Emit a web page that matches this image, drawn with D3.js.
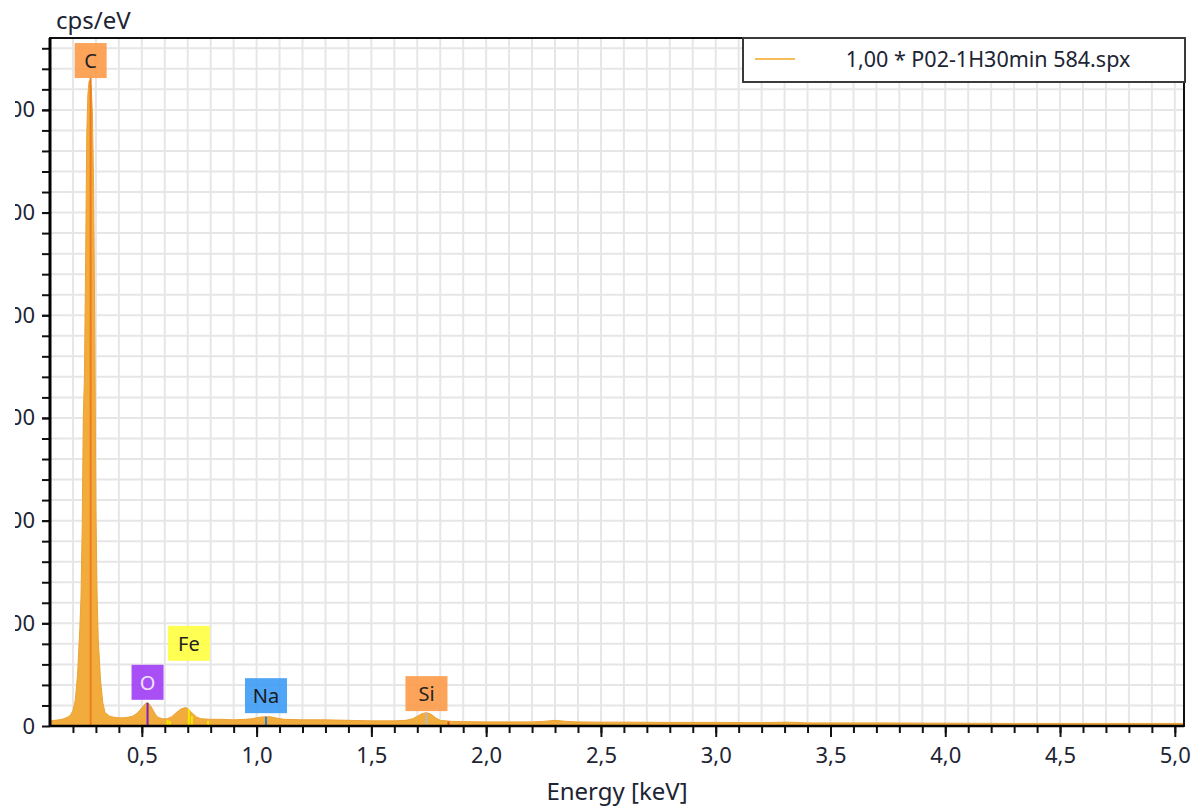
<!DOCTYPE html>
<html>
<head>
<meta charset="utf-8">
<script src="https://cdn.jsdelivr.net/npm/d3@7"></script>
<style>
  body { margin: 0; background: #fff; }
  text { font-family: "Noto Sans", "Open Sans", sans-serif; fill: #1d2433; }
</style>
</head>
<body>
<div id="spectrum"></div>
<script>
// spectrum (keV, cps/eV)
const energy = [0.10, 0.12, 0.14, 0.16, 0.18, 0.19, 0.20, 0.21, 0.22, 0.23, 0.235, 0.24, 0.245, 0.25, 0.255,
  0.26, 0.265, 0.27, 0.275, 0.28, 0.285, 0.29, 0.295, 0.30, 0.305, 0.31, 0.32, 0.33, 0.34, 0.36, 0.38,
  0.40, 0.42, 0.44, 0.46, 0.48, 0.50, 0.51, 0.52, 0.525, 0.53, 0.54, 0.55, 0.56, 0.57, 0.59, 0.61,
  0.63, 0.65, 0.67, 0.69, 0.70, 0.72, 0.74, 0.76, 0.80, 0.85, 0.90, 0.95, 0.98, 1.00, 1.03, 1.06,
  1.09, 1.12, 1.20, 1.30, 1.40, 1.50, 1.60, 1.65, 1.68, 1.70, 1.72, 1.74, 1.76, 1.78, 1.80, 1.85,
  1.90, 2.00, 2.10, 2.20, 2.25, 2.30, 2.35, 2.40, 2.50, 2.60, 2.80, 3.00, 3.20, 3.30, 3.35, 3.40,
  3.50, 3.70, 4.00, 4.30, 4.60, 4.80, 5.04];
const cps = [10, 11, 12, 14, 18, 22, 30, 50, 100, 190, 250, 380, 600, 680, 900,
  1150, 1230, 1255, 1258, 1240, 1190, 1050, 780, 420, 260, 170, 90, 45, 26, 19, 17,
  16, 16, 17, 19, 25, 35, 41, 45, 46, 44, 38, 30, 22, 17, 14, 14,
  18, 26, 33, 36, 34, 25, 17, 14, 13, 13, 12, 13, 14, 16, 18, 18,
  15, 13, 12, 12, 11, 10, 10, 11, 14, 19, 24, 26, 23, 16, 11, 9,
  8.5, 8, 8, 8, 9, 11, 9, 8, 7.5, 7.5, 7, 7, 6.5, 7.5, 7, 6,
  6, 6, 5.5, 5, 5, 5, 5];

// element labels
const elements = ["C", "O", "Fe", "Na", "Si"];
const elementEnergy = [0.277, 0.525, 0.705, 1.041, 1.740];
const labelBottom = [1262, 51, 127, 25, 29];
const labelColor = ["#fb9a48", "#a03cf5", "#ffff40", "#3d9bf5", "#fb9a48"];
const labelText = ["#222", "#f0e4ff", "#222", "#1a1a1a", "#222"];

// element marker lines
const markerEnergy = [0.277, 0.525, 0.612, 0.622, 0.705, 0.718, 0.788, 1.041, 1.740, 1.836];
const markerTop = [1262, 45, 12, 10, 33, 20, 10, 18, 26, 9];
const markerColor = ["#f07a20", "#7a20c0", "#f5e800", "#f5e800", "#f5e800", "#f5e800", "#f5e800", "#2a7fd0", "#b8b8b8", "#e05020"];

const xMajor = [0.5, 1.0, 1.5, 2.0, 2.5, 3.0, 3.5, 4.0, 4.5, 5.0];
const yMajor = [0, 200, 400, 600, 800, 1000, 1200];
const legendLabel = "1,00 * P02-1H30min 584.spx";

(function chart() {
  let width = 1192,
    height = 807,
    margin = ({ top: 38, right: 8, bottom: 81, left: 50 });

  const svg = d3.select("#spectrum")
    .append("svg")
    .attr("width", width)
    .attr("height", height);

  let x = d3.scaleLinear([0.1, 5.04], [margin.left, width - margin.right]);
  let y = d3.scaleLinear([0, 1340], [height - margin.bottom, margin.top]);

  const xMinor = d3.range(2, 51).map(d => d / 10);
  const yMinor = d3.range(40, 1340, 40);
  const fmt = d => d3.format(".1f")(d).replace(".", ",");

  // grid
  svg.append("g")
    .attr("stroke", "#e6e6e6")
    .attr("stroke-width", 2)
    .call(g => g.selectAll(".v").data(xMinor).join("line")
      .attr("x1", d => x(d)).attr("x2", d => x(d))
      .attr("y1", margin.top).attr("y2", height - margin.bottom))
    .call(g => g.selectAll(".h").data(yMinor).join("line")
      .attr("x1", margin.left).attr("x2", width - margin.right)
      .attr("y1", d => y(d)).attr("y2", d => y(d)));

  // spectrum
  const pts = energy.map((e, i) => [e, cps[i]]);
  svg.append("path")
    .datum(pts)
    .attr("fill", "#f2ac3c")
    .attr("stroke", "#eca235")
    .attr("stroke-width", 1)
    .attr("d", d3.area().x(d => x(d[0])).y0(y(0)).y1(d => y(d[1])));

  // marker lines
  svg.append("g")
    .selectAll("line")
    .data(markerEnergy)
    .join("line")
    .attr("x1", d => x(d)).attr("x2", d => x(d))
    .attr("y1", y(0))
    .attr("y2", (d, i) => y(markerTop[i]))
    .attr("stroke", (d, i) => markerColor[i])
    .attr("stroke-width", 2);

  // element labels
  const lab = svg.append("g")
    .selectAll("g")
    .data(elements)
    .join("g")
    .attr("transform", (d, i) => `translate(${x(elementEnergy[i])},${y(labelBottom[i])})`);
  lab.append("rect")
    .attr("x", d => d.length > 1 ? -21 : -16)
    .attr("width", d => d.length > 1 ? 42 : 32)
    .attr("y", -35)
    .attr("height", 35)
    .attr("fill", (d, i) => labelColor[i])
    .attr("opacity", 0.9);
  lab.append("text")
    .attr("y", -10)
    .attr("text-anchor", "middle")
    .attr("font-size", 20)
    .style("fill", (d, i) => labelText[i])
    .text(d => d);

  // x axis
  svg.append("g")
    .attr("transform", `translate(0,${height - margin.bottom})`)
    .call(d3.axisBottom(x).tickValues(xMinor).tickSize(7).tickFormat(""))
    .call(g => g.select(".domain").remove())
    .call(g => g.selectAll("line").attr("stroke", "#111").attr("stroke-width", 2));
  svg.append("g")
    .attr("transform", `translate(0,${height - margin.bottom})`)
    .call(d3.axisBottom(x).tickValues(xMajor).tickSize(11).tickPadding(10).tickFormat(fmt))
    .call(g => g.select(".domain").remove())
    .call(g => g.selectAll("line").attr("stroke", "#111").attr("stroke-width", 2))
    .call(g => g.selectAll("text").attr("font-size", 22).attr("font-family", null));

  // y axis; the source picture cuts the labels off at x = 15
  svg.append("g")
    .attr("transform", `translate(${margin.left},0)`)
    .call(d3.axisLeft(y).tickValues(yMinor).tickSize(8).tickFormat(""))
    .call(g => g.select(".domain").remove())
    .call(g => g.selectAll("line").attr("stroke", "#111").attr("stroke-width", 2));
  const yAxis = svg.append("g")
    .attr("transform", `translate(${margin.left},0)`)
    .call(d3.axisLeft(y).tickValues(yMajor).tickSize(8).tickPadding(7))
    .call(g => g.select(".domain").remove())
    .call(g => g.selectAll("line").attr("stroke", "#111").attr("stroke-width", 2))
    .call(g => g.selectAll("text").attr("font-size", 22).attr("font-family", null));
  yAxis.append("defs").append("clipPath").attr("id", "yclip")
    .append("rect").attr("x", 15 - margin.left).attr("y", -40).attr("width", margin.left).attr("height", 80);
  yAxis.selectAll(".tick text").attr("clip-path", "url(#yclip)");

  // frame
  svg.append("rect")
    .attr("x", margin.left).attr("y", margin.top)
    .attr("width", width - margin.right - margin.left)
    .attr("height", height - margin.bottom - margin.top)
    .attr("fill", "none").attr("stroke", "#111").attr("stroke-width", 2);
  svg.append("line")
    .attr("x1", margin.left).attr("x2", margin.left)
    .attr("y1", margin.top).attr("y2", height - margin.bottom)
    .attr("stroke", "#000").attr("stroke-width", 3);
  svg.append("line")
    .attr("x1", margin.left).attr("x2", width - margin.right)
    .attr("y1", height - margin.bottom).attr("y2", height - margin.bottom)
    .attr("stroke", "#000").attr("stroke-width", 2.5);

  // legend
  const leg = svg.append("g").attr("transform", "translate(743,38)");
  leg.append("rect")
    .attr("width", 442).attr("height", 44)
    .attr("fill", "#fff").attr("stroke", "#3a3a3a").attr("stroke-width", 2);
  leg.append("line")
    .attr("x1", 12).attr("x2", 52).attr("y1", 21).attr("y2", 21)
    .attr("stroke", "#f5a623").attr("stroke-width", 1.5);
  leg.append("text")
    .attr("x", 245).attr("y", 29)
    .attr("text-anchor", "middle")
    .attr("font-size", 21.5)
    .text(legendLabel);

  // axis titles
  svg.append("text")
    .attr("x", 56).attr("y", 29)
    .attr("font-size", 24)
    .text("cps/eV");
  svg.append("text")
    .attr("x", (margin.left + width - margin.right) / 2).attr("y", 800)
    .attr("text-anchor", "middle")
    .attr("font-size", 24)
    .text("Energy [keV]");
})();
</script>
</body>
</html>
